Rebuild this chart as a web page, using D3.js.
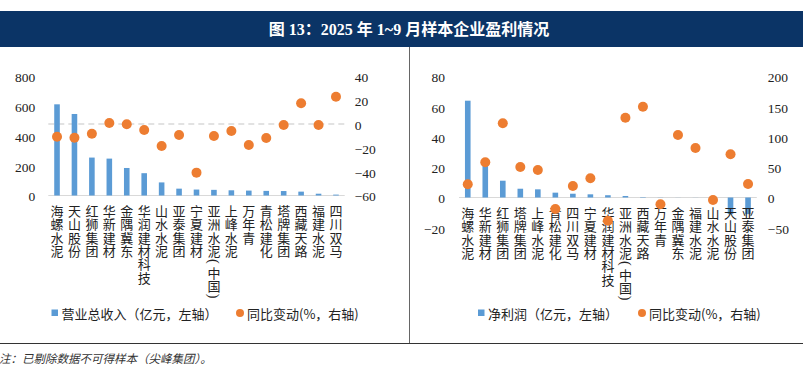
<!DOCTYPE html>
<html><head><meta charset="utf-8">
<script src="https://cdn.jsdelivr.net/npm/d3@7"></script>
<style>
html,body{margin:0;padding:0;background:#fff;}
svg{display:block;}
</style></head>
<body>
<svg id="c" width="803" height="376"></svg>
<script>
const titleText = "图 13：2025 年 1~9 月样本企业盈利情况";
const noteText = "注：已剔除数据不可得样本（尖峰集团）。";

// Left panel: revenue
const catsA = ["海螺水泥","天山股份","红狮集团","华新建材","金隅冀东","华润建材科技","山水水泥","亚泰集团","宁夏建材","亚洲水泥(中国)","上峰水泥","万年青","青松建化","塔牌集团","西藏天路","福建水泥","四川双马"];
const revenue = [613,548,255,248,185,150,88,46,40,38,35,33,31,30,26,12,6];
const revenueYoy = [-10.6,-11.4,-8.1,0.9,-0.2,-5,-18.4,-9.2,-40.8,-10,-5.8,-17.6,-11.7,-0.8,17.5,-0.8,23];
const ticksAL = [0,200,400,600,800];
const ticksAR = [-60,-40,-20,0,20,40];
const legendA = ["营业总收入（亿元，左轴）","同比变动(%，右轴)"];

// Right panel: net profit
const catsB = ["海螺水泥","华新建材","红狮集团","塔牌集团","上峰水泥","青松建化","四川双马","宁夏建材","华润建材科技","亚洲水泥(中国)","西藏天路","万年青","金隅冀东","福建水泥","山水水泥","天山股份","亚泰集团"];
const profit = [64,23,11.1,5.8,5.4,3.2,2.5,2.1,1.5,1.0,0.3,0.1,0.05,0.05,0.05,-11,-11];
const profitYoy = [21.8,58.2,122.6,50.4,45.5,-19,19,31.7,-38.3,131.9,150,-11.2,103.3,81.8,-4.1,71.4,22.3];
const ticksBL = [-20,0,20,40,60,80];
const ticksBR = [-50,0,50,100,150,200];
const legendB = ["净利润（亿元，左轴）","同比变动(%，右轴)"];

const BLUE = "#5b9bd5", ORANGE = "#ed7d31";
const numFont = "'Liberation Serif','Times New Roman',serif";
const cjkFont = "'Noto Sans CJK SC','Liberation Serif',serif";

const svg = d3.select("#c");

// title bar
svg.append("rect").attr("x",0).attr("y",11).attr("width",803).attr("height",36).attr("fill","#0b3466");
svg.append("text").attr("x",409).attr("y",29).attr("text-anchor","middle").attr("dominant-baseline","central")
  .attr("fill","#fff").attr("font-size",16).attr("font-weight","bold")
  .attr("font-family","'Liberation Serif','Noto Sans CJK SC',serif").text(titleText);

// frame lines
svg.append("line").attr("x1",409.5).attr("x2",409.5).attr("y1",47).attr("y2",343).attr("stroke","#666").attr("stroke-width",1);
svg.append("line").attr("x1",0).attr("x2",803).attr("y1",343.5).attr("y2",343.5).attr("stroke","#333").attr("stroke-width",1);
svg.append("text").attr("x",-1).attr("y",358).attr("dominant-baseline","central")
  .attr("font-size",11.5).attr("font-style","italic").attr("fill","#333")
  .attr("font-family",cjkFont).text(noteText);

function panel(o){
  const g = svg.append("g");
  const x = d3.scaleBand().domain(o.cats).range(o.xr).padding(0);
  const yL = d3.scaleLinear().domain(o.dL).range(o.yr);
  const yR = d3.scaleLinear().domain(o.dR).range(o.yr);
  const bw = x.bandwidth()*0.32;

  // axes
  const axL = g.append("g").attr("transform",`translate(${o.xr[0]},0)`)
    .call(d3.axisLeft(yL).tickValues(o.tL).tickSize(0).tickPadding(o.padL));
  const axR = g.append("g").attr("transform",`translate(${o.xr[1]},0)`)
    .call(d3.axisRight(yR).tickValues(o.tR).tickSize(0).tickPadding(o.padR));
  [axL,axR].forEach(a=>{
    a.select(".domain").remove();
    a.selectAll("text").attr("font-family",numFont).attr("font-size",13.5).attr("fill","#222").attr("dy","0.4em");
  });

  // zero / base lines
  g.append("line").attr("x1",o.xr[0]).attr("x2",o.xr[1])
    .attr("y1",yL(0)).attr("y2",yL(0)).attr("stroke","#d9d9d9").attr("stroke-width",1.2);
  if(o.dashZero){
    g.append("line").attr("x1",o.xr[0]).attr("x2",o.xr[1])
      .attr("y1",yR(0)).attr("y2",yR(0)).attr("stroke","#d9d9d9").attr("stroke-width",1.5).attr("stroke-dasharray","6,4");
  }

  // bars
  g.selectAll("rect.bar").data(o.bars).join("rect").attr("class","bar")
    .attr("x",(d,i)=>x(o.cats[i])+x.bandwidth()/2-bw/2)
    .attr("width",bw)
    .attr("y",d=>Math.min(yL(d),yL(0)))
    .attr("height",d=>Math.abs(yL(d)-yL(0)))
    .attr("fill",BLUE);

  // category labels (vertical stacked characters)
  const step = 13.3;
  o.cats.forEach(c=>{
    const cx = x(c)+x.bandwidth()/2;
    let yy = o.labelTop;
    Array.from(c).forEach(ch=>{
      const paren = (ch==="("||ch===")");
      const adv = paren ? step*0.62 : step;
      const cy = yy + adv/2;
      const t = g.append("text").attr("x",cx).attr("y",cy)
        .attr("text-anchor","middle").attr("dominant-baseline","central")
        .attr("font-size",paren?14:13).attr("fill","#222")
        .attr("font-family",paren?numFont:cjkFont).text(ch);
      if(paren) t.attr("transform",`rotate(90,${cx},${cy})`);
      yy += adv;
    });
  });

  // dots
  g.selectAll("circle.dot").data(o.dots).join("circle").attr("class","dot")
    .attr("cx",(d,i)=>x(o.cats[i])+x.bandwidth()/2)
    .attr("cy",d=>yR(d)).attr("r",5).attr("fill",ORANGE);

  // legend
  const ly = 313;
  g.append("rect").attr("x",o.leg[0]).attr("y",ly-3.5).attr("width",6.5).attr("height",6.5).attr("fill",BLUE);
  g.append("text").attr("x",o.leg[0]+10).attr("y",ly).attr("dominant-baseline","central")
    .attr("font-size",13).attr("fill","#222").attr("font-family",cjkFont).text(o.legText[0]);
  g.append("circle").attr("cx",o.leg[1]).attr("cy",ly).attr("r",4).attr("fill",ORANGE);
  g.append("text").attr("x",o.leg[1]+7).attr("y",ly).attr("dominant-baseline","central")
    .attr("font-size",13).attr("fill","#222").attr("font-family",cjkFont).text(o.legText[1]);
}

panel({cats:catsA, bars:revenue, dots:revenueYoy, xr:[48.3,344.7], yr:[195.5,76.5],
  dL:[0,800], dR:[-60,40], tL:ticksAL, tR:ticksAR, padL:13, padR:10, dashZero:true,
  labelTop:204, leg:[51.5,240], legText:legendA});

panel({cats:catsB, bars:profit, dots:profitYoy, xr:[459,756.8], yr:[227.75,76.5],
  dL:[-20,80], dR:[-50,200], tL:ticksBL, tR:ticksBR, padL:14, padR:11, dashZero:false,
  labelTop:206, leg:[478,642], legText:legendB});
</script>
</body></html>
